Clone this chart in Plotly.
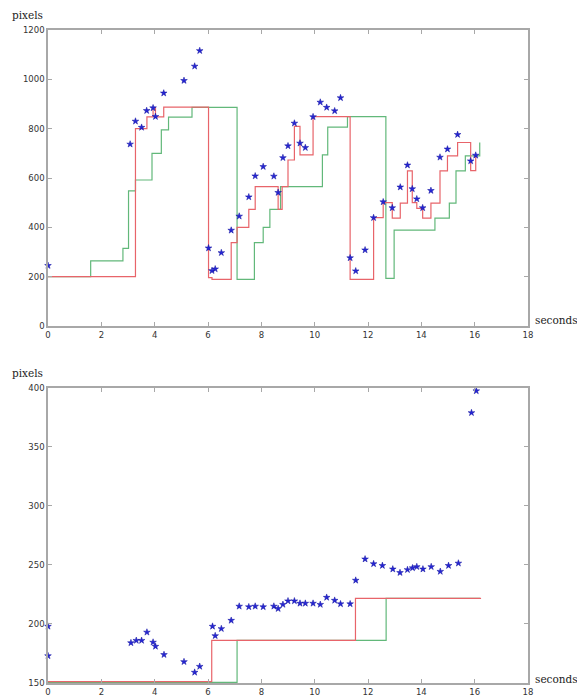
import plotly.graph_objects as go

# ---------------- data: top panel ----------------
top_t = [0.0, 3.08, 3.28, 3.51, 3.70, 3.94, 4.03, 4.34, 5.10, 5.50, 5.69, 6.02, 6.15, 6.27,
         6.50, 6.87, 7.17, 7.53, 7.77, 8.07, 8.47, 8.63, 8.81, 9.00, 9.24, 9.45, 9.65, 9.94,
         10.21, 10.45, 10.75, 10.97, 11.33, 11.54, 11.89, 12.21, 12.57, 12.91, 13.21, 13.48,
         13.66, 13.83, 14.05, 14.36, 14.70, 14.98, 15.36, 15.85, 16.04]
top_px = [245, 737, 830, 805, 873, 884, 849, 944, 995, 1053, 1116, 316, 224, 231,
          297, 388, 445, 523, 608, 646, 607, 541, 682, 730, 822, 741, 723, 848,
          907, 886, 872, 925, 276, 223, 308, 439, 503, 479, 563, 652,
          556, 515, 479, 549, 684, 717, 776, 669, 692]

top_red_t = [0, 3.28, 3.71, 3.94, 4.03, 4.34, 6.02, 6.15, 6.87, 7.09, 7.53, 7.77, 8.63, 8.78,
             9.00, 9.24, 9.45, 9.94, 11.33, 12.21, 12.57, 12.91, 13.21, 13.48, 13.66, 13.83,
             14.05, 14.36, 14.70, 14.98, 15.36, 15.85, 16.04, 16.07]
top_red_y = [200, 800, 848, 884, 848, 887, 196, 189, 338, 400, 473, 565, 473, 565,
             673, 809, 694, 849, 189, 439, 500, 437, 498, 629, 500, 477,
             437, 498, 629, 690, 744, 630, 693, 693]

top_green_t = [0, 1.60, 2.81, 3.02, 3.28, 3.90, 4.25, 4.52, 5.40, 7.09, 7.74, 8.07, 8.32, 8.72,
               10.29, 10.49, 11.23, 12.67, 12.98, 14.51, 15.05, 15.30, 15.65, 16.19]
top_green_y = [200, 264, 315, 548, 592, 700, 795, 847, 886, 189, 338, 400, 473, 565,
               694, 806, 849, 193, 389, 437, 498, 629, 690, 744]

# ---------------- data: bottom panel ----------------
bot_t = [0.0, 0.0, 3.11, 3.31, 3.51, 3.71, 3.94, 4.03, 4.35, 5.10, 5.50, 5.69, 6.17, 6.27,
         6.50, 6.87, 7.17, 7.53, 7.77, 8.07, 8.47, 8.63, 8.81, 9.00, 9.24, 9.45, 9.65, 9.94,
         10.21, 10.45, 10.75, 10.97, 11.33, 11.54, 11.89, 12.21, 12.54, 12.93, 13.20, 13.48,
         13.67, 13.83, 14.06, 14.37, 14.71, 15.02, 15.39, 15.88, 16.06]
bot_px = [173, 198, 184, 186, 186, 193, 184.5, 181, 174, 168, 159, 164, 198, 190,
          196, 203, 215, 214.5, 215, 214.5, 215, 213, 216.5, 219.5, 219.5, 217.5, 217.5, 217.5,
          216.5, 222.5, 220, 217, 217, 237, 255, 251, 249.5, 246.5, 243.5, 246,
          247.5, 248.5, 246.5, 248.5, 244.5, 249.5, 251.5, 379, 397.5]

bot_red_t = [0, 6.14, 11.53, 16.24]
bot_red_y = [151.2, 186.2, 221.7, 221.7]
bot_green_t = [0, 7.09, 12.68, 16.20]
bot_green_y = [150.6, 186.2, 221.7, 221.7]

x_ticks = [0, 2, 4, 6, 8, 10, 12, 14, 16, 18]
top_y_ticks = [0, 200, 400, 600, 800, 1000, 1200]
bot_y_ticks = [150, 200, 250, 300, 350, 400]

RED = "#e8646a"
GREEN = "#62b87a"
BLUE = "#2626d4"

fig = go.Figure()

def add_panel(xa, ya, t_pts, y_pts, rt, ry, gt, gy):
    fig.add_trace(go.Scatter(x=gt, y=gy, mode="lines", line=dict(color=GREEN, width=1.2, shape="hv"),
                             xaxis=xa, yaxis=ya, showlegend=False, hoverinfo="skip"))
    fig.add_trace(go.Scatter(x=rt, y=ry, mode="lines", line=dict(color=RED, width=1.2, shape="hv"),
                             xaxis=xa, yaxis=ya, showlegend=False, hoverinfo="skip"))
    fig.add_trace(go.Scatter(x=t_pts, y=y_pts, mode="markers",
                             marker=dict(symbol="star", size=5, color=BLUE,
                                         line=dict(color="#1010a0", width=0.5)),
                             xaxis=xa, yaxis=ya, showlegend=False, cliponaxis=False))

add_panel("x", "y", top_t, top_px, top_red_t, top_red_y, top_green_t, top_green_y)
add_panel("x2", "y2", bot_t, bot_px, bot_red_t, bot_red_y, bot_green_t, bot_green_y)

tickfont = dict(family="DejaVu Sans", size=8.5, color="#333")
axis_common = dict(showgrid=False, zeroline=False, showline=True, mirror="ticks",
                   linecolor="#a8a8a8", linewidth=1.5, ticks="inside", ticklen=4,
                   tickcolor="#a8a8a8", tickfont=tickfont, automargin=False)

# figure sits inside the page's 8px body margin
fig.update_layout(
    width=577, height=688,
    margin=dict(l=40, r=57, t=22, b=13),
    paper_bgcolor="white", plot_bgcolor="white",
    xaxis=dict(domain=[0, 1], range=[0, 18], tickvals=x_ticks, anchor="y", **axis_common),
    yaxis=dict(domain=[0.5467, 1], range=[0, 1200], tickvals=top_y_ticks, anchor="x", **axis_common),
    xaxis2=dict(domain=[0, 1], range=[0, 18], tickvals=x_ticks, anchor="y2", **axis_common),
    yaxis2=dict(domain=[0, 0.4518], range=[150, 400], tickvals=bot_y_ticks, anchor="x2", **axis_common),
)

lab = dict(family="DejaVu Serif", size=10.5, color="#222")
for yy in (1.023, 0.4747):
    fig.add_annotation(text="pixels", xref="paper", yref="paper", x=-0.0417, y=yy,
                       showarrow=False, font=lab, xanchor="center", yanchor="middle")
for yy in (0.5559, 0.0061):
    fig.add_annotation(text="seconds", xref="paper", yref="paper", x=1.0104, y=yy,
                       showarrow=False, font=lab, xanchor="left", yanchor="middle")

fig.write_html("out.html")
